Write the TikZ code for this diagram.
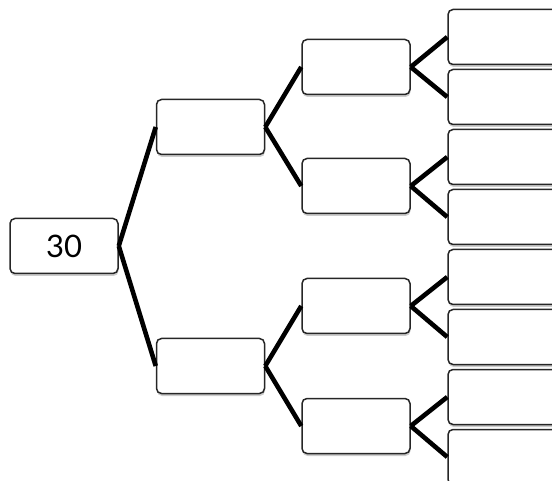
\documentclass[tikz,border=0pt]{standalone}
\usepackage{fontspec}
\setmainfont{Lato}
\usetikzlibrary{shadows}
\begin{document}
\begin{tikzpicture}[x=1pt,y=-1pt,
  box/.style={draw=black!85, line width=1.5pt, rounded corners=5pt, fill=white,
    inner sep=0pt, minimum width=108pt, minimum height=55pt,
    drop shadow={shadow xshift=0.5pt, shadow yshift=-2.5pt, opacity=0.2, fill=black}},
  leafbox/.style={box, minimum width=130pt},
  link/.style={line width=4.6pt, black}]
\useasboundingbox (0,0) rectangle (552,481);
\clip (0,0) rectangle (552,481);
% root
\node[box, font=\fontsize{31}{31}\selectfont] (r) at (64,246) {30};
% level 1
\node[box] (a) at (210.5,127) {};
\node[box] (b) at (210.5,366) {};
% level 2
\node[box] (a1) at (356,67) {};
\node[box] (a2) at (356,186) {};
\node[box] (b1) at (356,306) {};
\node[box] (b2) at (356,426) {};
% level 3
\foreach \i in {1,...,8}{
  \node[leafbox] (l\i) at (448+65,{37+60*(\i-1)}) {};
}
% connectors
\draw[link] (r.east) -- (a.west);
\draw[link] (r.east) -- (b.west);
\draw[link] (a.east) -- (a1.west);
\draw[link] (a.east) -- (a2.west);
\draw[link] (b.east) -- (b1.west);
\draw[link] (b.east) -- (b2.west);
\draw[link] (a1.east) -- (l1.west);
\draw[link] (a1.east) -- (l2.west);
\draw[link] (a2.east) -- (l3.west);
\draw[link] (a2.east) -- (l4.west);
\draw[link] (b1.east) -- (l5.west);
\draw[link] (b1.east) -- (l6.west);
\draw[link] (b2.east) -- (l7.west);
\draw[link] (b2.east) -- (l8.west);
\end{tikzpicture}
\end{document}
